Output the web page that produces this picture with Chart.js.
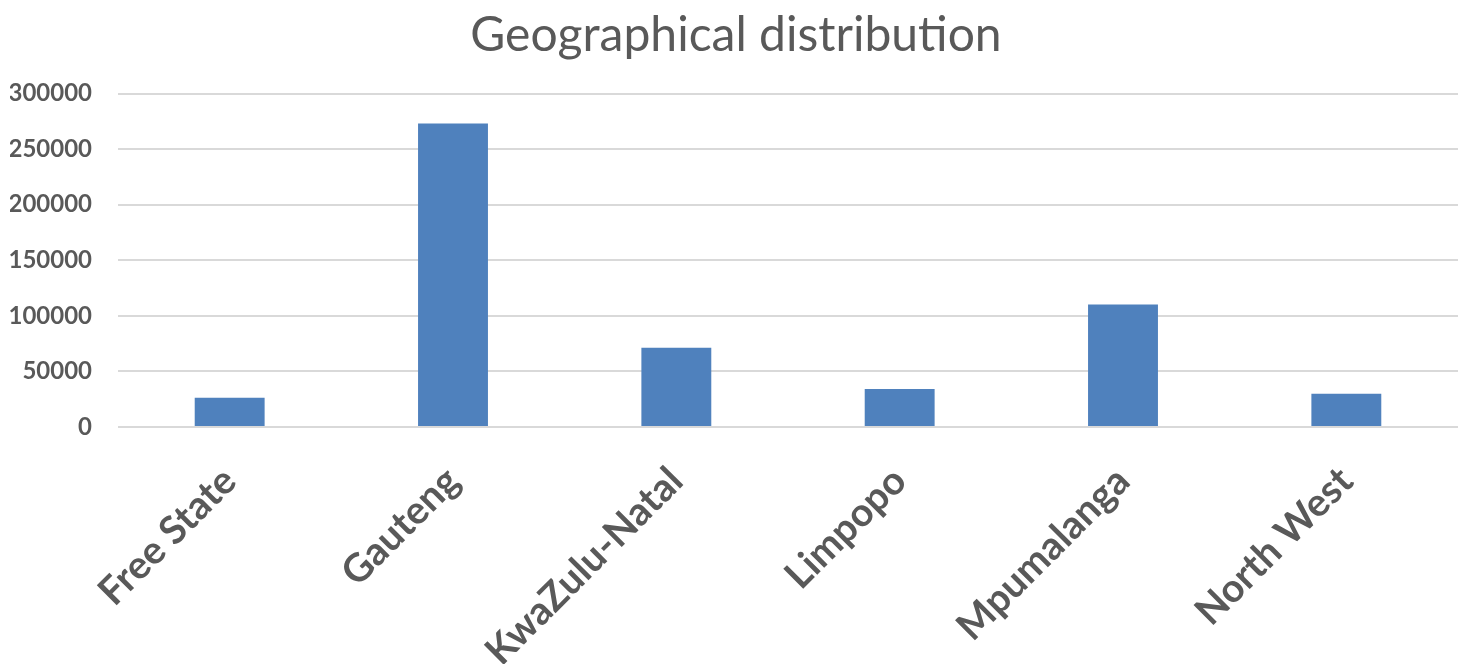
<!DOCTYPE html>
<html>
<head>
<meta charset="utf-8">
<script src="https://cdn.jsdelivr.net/npm/chart.js@4/dist/chart.umd.min.js"></script>
<style>
  html, body { margin: 0; padding: 0; background: #ffffff; }
  #wrap { width: 1458px; height: 664px; }
</style>
</head>
<body>
<div id="wrap"><canvas id="chart" width="1458" height="664"></canvas></div>
<script>
// Provinces and their counts
const provinces = ['Free State', 'Gauteng', 'KwaZulu-Natal', 'Limpopo', 'Mpumalanga', 'North West'];
const counts = [26400, 273000, 71300, 34100, 110200, 30000];
const yTicks = [0, 50000, 100000, 150000, 200000, 250000, 300000];

const textGrey = '#595959';

new Chart(document.getElementById('chart'), {
  type: 'bar',
  data: {
    labels: provinces,
    datasets: [{
      data: counts,
      backgroundColor: '#4f81bd',
      borderWidth: 0,
      barPercentage: 0.313,
      categoryPercentage: 1.0
    }]
  },
  options: {
    responsive: false,
    animation: false,
    layout: { padding: { left: 10, right: -4, top: 7, bottom: 0 } },
    plugins: {
      legend: { display: false },
      tooltip: { enabled: false },
      title: {
        display: true,
        text: 'Geographical distribution',
        color: textGrey,
        font: { family: 'Lato', size: 48, weight: 'normal' },
        padding: { top: 0, bottom: 29 }
      }
    },
    scales: {
      x: {
        grid: { display: false },
        border: { display: false },
        afterFit: (scale) => {
          scale.height = 237;
          // rotated labels may hang past the plot edges; keep the plot full width
          scale.paddingLeft = 0;
          scale.paddingRight = 0;
        },
        ticks: {
          color: textGrey,
          font: { family: 'Lato', size: 39, weight: 'bold' },
          maxRotation: 45,
          minRotation: 45,
          padding: 23,
          autoSkip: false
        }
      },
      y: {
        min: 0,
        max: 300000,
        afterBuildTicks: (scale) => { scale.ticks = yTicks.map(v => ({ value: v })); },
        afterFit: (scale) => { scale.width = 108; },
        grid: { color: '#d9d9d9', lineWidth: 2, drawTicks: false },
        border: { display: false },
        ticks: {
          color: textGrey,
          font: { family: 'Lato', size: 24, weight: 'bold' },
          padding: 26,
          callback: (v) => String(v)
        }
      }
    }
  }
});
</script>
</body>
</html>
